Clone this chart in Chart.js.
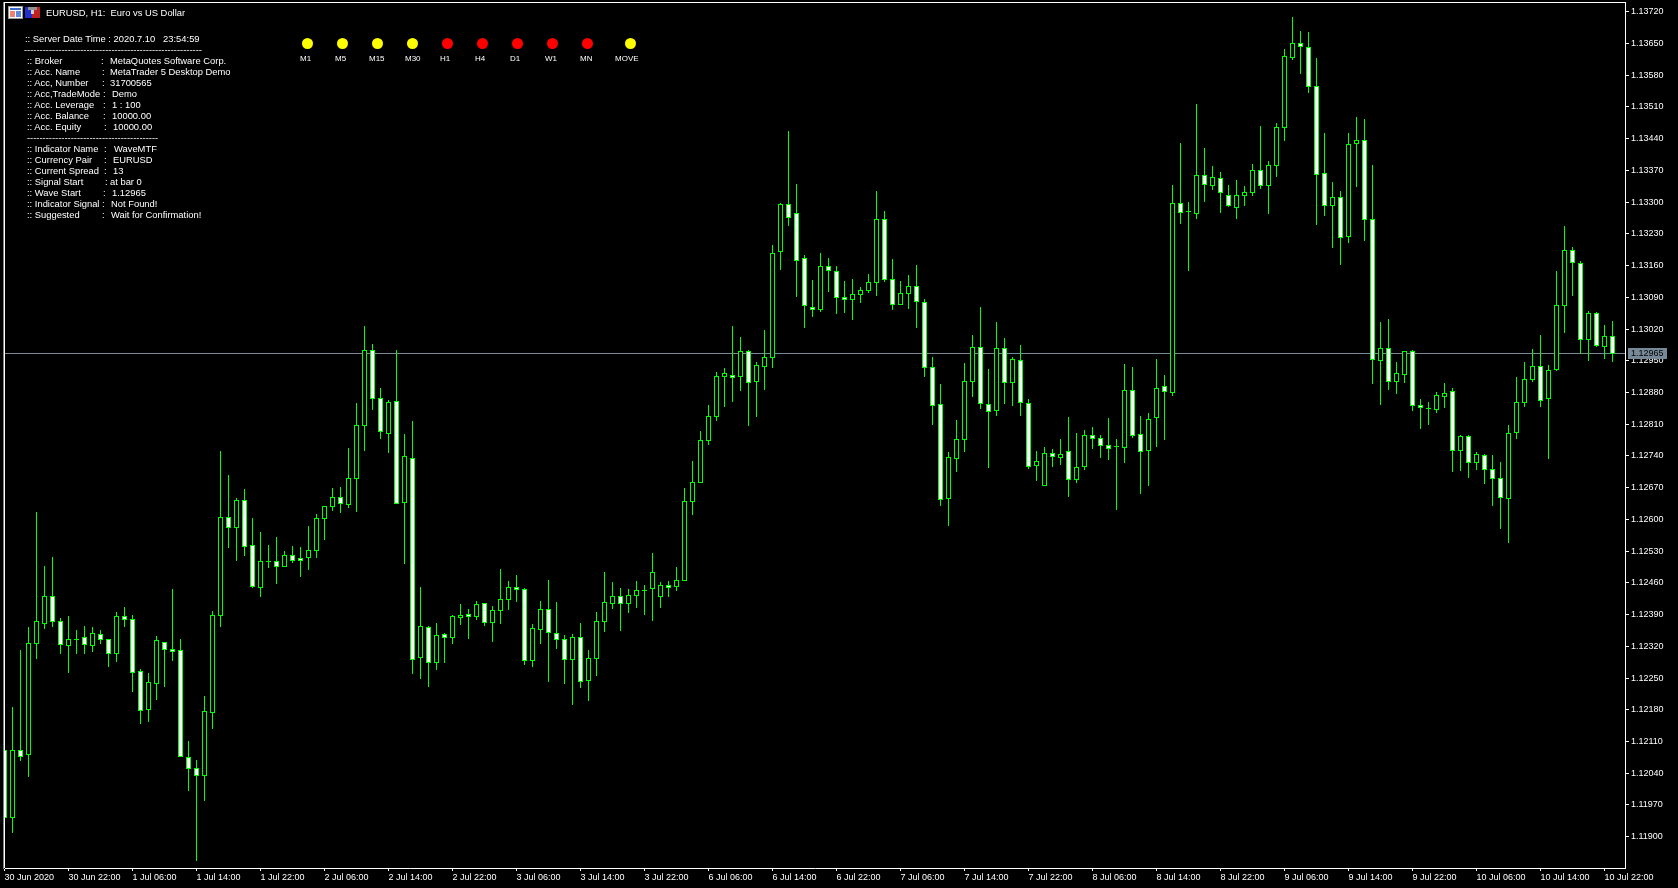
<!DOCTYPE html>
<html>
<head>
<meta charset="utf-8">
<title>EURUSD, H1</title>
<script src="https://cdn.jsdelivr.net/npm/chart.js@4/dist/chart.umd.min.js"></script>
<style>
    html, body { margin: 0; padding: 0; background: #000; overflow: hidden; }
    #wrap { position: relative; width: 1678px; height: 888px; }
    canvas { display: block; }
    .txt { position: absolute; color: #fff; font: 9.4px "Liberation Sans", sans-serif; white-space: pre; line-height: 11px; }
    .dot { position: absolute; width: 11px; height: 11px; border-radius: 50%; }
    svg { position: absolute; }
</style>
</head>
<body>
<div id="wrap"><canvas id="chart" width="1678" height="888"></canvas></div>
<script>
// Prices in 1/100000, one candle per hour
const opens = [
    112090, 111943, 112090, 112082, 112327, 112371, 112430, 112375, 112322, 112335,
    112340, 112322, 112347, 112335, 112305, 112386, 112380, 112265, 112181, 112238,
    112329, 112313, 112311, 112075, 112051, 112035, 112174, 112388, 112605, 112582,
    112642, 112543, 112450, 112508, 112508, 112496, 112521, 112514, 112516, 112532,
    112602, 112629, 112649, 112633, 112691, 112808, 112972, 112867, 112790, 112860,
    112638, 112735, 112296, 112362, 112285, 112347, 112340, 112384, 112391, 112386,
    112415, 112373, 112399, 112424, 112450, 112446, 112289, 112358, 112402, 112349,
    112335, 112291, 112340, 112245, 112294, 112375, 112415, 112430, 112415, 112432,
    112444, 112448, 112430, 112455, 112452, 112466, 112640, 112682, 112774, 112827,
    112916, 112918, 112916, 112971, 112905, 112938, 112958, 113191, 113295, 113275,
    113176, 113068, 113063, 113158, 113147, 113090, 113085, 113096, 113105, 113123,
    113262, 113130, 113074, 113099, 113114, 113079, 112935, 112854, 112646, 112735,
    112777, 112905, 112980, 112854, 112841, 112977, 112902, 112951, 112856, 112719,
    112675, 112746, 112737, 112750, 112688, 112717, 112785, 112779, 112763, 112760,
    112759, 112885, 112788, 112752, 112825, 112894, 112880, 113297, 113280, 113275,
    113359, 113337, 113352, 113315, 113288, 113315, 113322, 113370, 113337, 113381,
    113465, 113619, 113650, 113641, 113555, 113363, 113293, 113311, 113225, 113430,
    113436, 113262, 112951, 112977, 112905, 112920, 112971, 112852, 112845, 112843,
    112872, 112883, 112752, 112783, 112726, 112741, 112710, 112691, 112647, 112792,
    112858, 112909, 112938, 112867, 112931, 113072, 113194, 113165, 112997, 113055,
    112982, 113004
];
const highs = [
    112090, 112185, 112310, 112362, 112616, 112497, 112516, 112382, 112386, 112355,
    112364, 112362, 112355, 112336, 112395, 112406, 112388, 112269, 112260, 112342,
    112329, 112446, 112335, 112110, 112069, 112210, 112397, 112750, 112697, 112646,
    112666, 112602, 112571, 112543, 112560, 112530, 112541, 112538, 112585, 112611,
    112629, 112669, 112671, 112757, 112856, 113026, 112986, 112889, 112863, 112973,
    112788, 112816, 112450, 112364, 112371, 112349, 112388, 112413, 112402, 112419,
    112415, 112408, 112490, 112463, 112477, 112448, 112369, 112419, 112466, 112417,
    112344, 112347, 112371, 112311, 112395, 112483, 112461, 112448, 112446, 112463,
    112455, 112525, 112461, 112463, 112494, 112669, 112728, 112794, 112852, 112924,
    112933, 113026, 113002, 112973, 112947, 113017, 113205, 113297, 113456, 113339,
    113183, 113127, 113187, 113176, 113158, 113125, 113130, 113112, 113141, 113324,
    113280, 113174, 113125, 113138, 113160, 113085, 112958, 112898, 112748, 112819,
    112944, 113006, 113068, 112931, 113035, 112999, 112958, 112984, 112865, 112750,
    112759, 112755, 112777, 112825, 112790, 112796, 112803, 112785, 112823, 112777,
    112942, 112936, 112827, 112834, 112953, 112918, 113337, 113430, 113300, 113516,
    113419, 113379, 113366, 113337, 113348, 113335, 113384, 113467, 113390, 113474,
    113637, 113708, 113677, 113675, 113617, 113452, 113344, 113324, 113452, 113487,
    113483, 113381, 113035, 113041, 112947, 112971, 112972, 112865, 112858, 112880,
    112900, 112889, 112785, 112784, 112748, 112744, 112741, 112726, 112808, 112913,
    112947, 112975, 113006, 112940, 113147, 113247, 113200, 113169, 113059, 113056,
    113028, 113037
];
const lows = [
    111943, 111909, 112068, 112033, 112293, 112359, 112363, 112304, 112262, 112304,
    112304, 112308, 112326, 112275, 112286, 112363, 112220, 112150, 112154, 112202,
    112231, 112288, 112077, 112002, 111847, 111980, 112138, 112363, 112538, 112509,
    112520, 112449, 112430, 112493, 112458, 112496, 112505, 112474, 112489, 112516,
    112555, 112619, 112615, 112627, 112617, 112752, 112843, 112779, 112747, 112636,
    112503, 112260, 112249, 112231, 112269, 112284, 112326, 112368, 112337, 112379,
    112366, 112330, 112370, 112401, 112419, 112280, 112275, 112326, 112242, 112315,
    112238, 112191, 112229, 112200, 112255, 112352, 112403, 112355, 112394, 112405,
    112390, 112377, 112405, 112430, 112443, 112466, 112610, 112682, 112765, 112818,
    112849, 112860, 112884, 112808, 112827, 112887, 112935, 113152, 113248, 113092,
    113024, 113047, 113059, 113103, 113055, 113057, 113041, 113079, 113101, 113094,
    113125, 113063, 113074, 113065, 113024, 112916, 112810, 112631, 112587, 112706,
    112750, 112871, 112845, 112715, 112830, 112856, 112852, 112830, 112713, 112686,
    112675, 112717, 112721, 112651, 112682, 112710, 112757, 112737, 112733, 112622,
    112725, 112780, 112658, 112674, 112761, 112777, 112873, 113252, 113149, 113263,
    113301, 113327, 113277, 113290, 113263, 113292, 113314, 113329, 113275, 113356,
    113436, 113614, 113583, 113541, 113250, 113270, 113200, 113162, 113211, 113334,
    113215, 112899, 112853, 112886, 112877, 112902, 112840, 112800, 112809, 112836,
    112847, 112705, 112708, 112692, 112710, 112679, 112630, 112580, 112549, 112778,
    112849, 112905, 112849, 112734, 112929, 113012, 113094, 112966, 112950, 112981,
    112955, 112948
];
const closes = [
    111943, 112090, 112077, 112327, 112375, 112430, 112375, 112324, 112335, 112335,
    112324, 112349, 112335, 112305, 112386, 112380, 112263, 112179, 112241, 112333,
    112313, 112309, 112077, 112051, 112035, 112177, 112388, 112605, 112582, 112642,
    112541, 112452, 112508, 112508, 112496, 112521, 112510, 112510, 112532, 112602,
    112629, 112649, 112636, 112691, 112808, 112972, 112867, 112794, 112858, 112636,
    112739, 112291, 112364, 112285, 112344, 112340, 112386, 112388, 112386, 112413,
    112373, 112399, 112424, 112450, 112446, 112289, 112360, 112402, 112351, 112335,
    112291, 112340, 112243, 112294, 112375, 112417, 112430, 112415, 112432, 112444,
    112444, 112483, 112455, 112450, 112466, 112640, 112682, 112774, 112827, 112916,
    112922, 112913, 112971, 112902, 112940, 112958, 113187, 113295, 113266, 113171,
    113072, 113063, 113158, 113149, 113090, 113085, 113096, 113105, 113123, 113262,
    113130, 113074, 113099, 113114, 113081, 112935, 112852, 112644, 112737, 112777,
    112905, 112980, 112856, 112838, 112977, 112902, 112953, 112858, 112717, 112728,
    112746, 112739, 112744, 112688, 112715, 112785, 112779, 112763, 112757, 112760,
    112885, 112786, 112750, 112821, 112889, 112883, 113297, 113277, 113280, 113359,
    113339, 113355, 113322, 113293, 113315, 113322, 113370, 113337, 113381, 113465,
    113622, 113650, 113644, 113555, 113361, 113293, 113311, 113222, 113427, 113436,
    113262, 112953, 112977, 112905, 112922, 112971, 112852, 112847, 112845, 112874,
    112878, 112752, 112783, 112726, 112744, 112710, 112691, 112649, 112790, 112858,
    112909, 112938, 112863, 112929, 113072, 113194, 113167, 112997, 113055, 112984,
    113004, 112965
];

const priceTicks = [
    113720, 113650, 113580, 113510, 113440, 113370, 113300, 113230, 113160, 113090,
    113020, 112950, 112880, 112810, 112740, 112670, 112600, 112530, 112460, 112390,
    112320, 112250, 112180, 112110, 112040, 111970, 111900
];
const timeLabels = [
    "30 Jun 2020", "30 Jun 22:00", "1 Jul 06:00", "1 Jul 14:00", "1 Jul 22:00", "2 Jul 06:00",
    "2 Jul 14:00", "2 Jul 22:00", "3 Jul 06:00", "3 Jul 14:00", "3 Jul 22:00", "6 Jul 06:00",
    "6 Jul 14:00", "6 Jul 22:00", "7 Jul 06:00", "7 Jul 14:00", "7 Jul 22:00", "8 Jul 06:00",
    "8 Jul 14:00", "8 Jul 22:00", "9 Jul 06:00", "9 Jul 14:00", "9 Jul 22:00", "10 Jul 06:00",
    "10 Jul 14:00", "10 Jul 22:00"
];
const barsPerLabel = 8;
const currentPrice = 112965;

const timeframes = ["M1", "M5", "M15", "M30", "H1", "H4", "D1", "W1", "MN", "MOVE"];
const timeframeColors = ["#ffff00", "#ffff00", "#ffff00", "#ffff00", "#ff0000", "#ff0000", "#ff0000", "#ff0000", "#ff0000", "#ffff00"];

const GREEN = "#00ff00";
const AXIS_FONT = { family: "Liberation Sans", size: 9 };

function fmtPrice(v) {
    return (v / 100000).toFixed(5);
}

// Snap bars to whole pixel rows, the terminal draws without antialiasing
const snapBars = {
    id: "snapBars",
    afterDatasetsUpdate(chart) {
        chart.getSortedVisibleDatasetMetas().forEach(meta => {
            meta.data.forEach(bar => {
                const top = Math.floor(Math.min(bar.y, bar.base));
                const bottom = Math.floor(Math.max(bar.y, bar.base)) + 1;
                bar.y = top;
                bar.base = bottom;
            });
        });
    }
};

// Bid line goes behind the candles
const bidLine = {
    id: "bidLine",
    beforeDatasetsDraw(chart) {
        const { ctx, chartArea, scales } = chart;
        const y = Math.floor(scales.y.getPixelForValue(currentPrice));
        ctx.save();
        ctx.fillStyle = "#778899";
        ctx.fillRect(chartArea.left, y, chartArea.right - chartArea.left, 1);
        ctx.restore();
    },
    afterDraw(chart) {
        const { ctx, chartArea, scales } = chart;
        const y = Math.floor(scales.y.getPixelForValue(currentPrice));
        ctx.save();
        // frame top and left
        ctx.fillStyle = "#ffffff";
        ctx.fillRect(3, 2, chartArea.right - 2, 1);
        ctx.fillRect(4, 2, 1, chartArea.bottom - 2);
        ctx.fillStyle = "#808080";
        ctx.fillRect(3, 2, 1, chartArea.bottom - 1);
        // price tag
        ctx.fillStyle = "#778899";
        ctx.fillRect(chartArea.right + 3, y - 5, 39, 11);
        ctx.fillStyle = "#000000";
        ctx.font = AXIS_FONT.size + "px " + AXIS_FONT.family;
        ctx.textBaseline = "middle";
        ctx.fillText(fmtPrice(currentPrice), chartArea.right + 6, y + 1);
        ctx.restore();
    }
};

new Chart(document.getElementById("chart"), {
    type: "bar",
    data: {
        datasets: [
            {
                label: "Body",
                order: 1,
                grouped: false,
                data: opens.map((o, i) => ({ x: i, y: [Math.min(o, closes[i]), Math.max(o, closes[i])] })),
                barThickness: 5,
                borderWidth: 1,
                borderSkipped: false,
                inflateAmount: 0,
                borderColor: GREEN,
                backgroundColor: ctx => closes[ctx.dataIndex] < opens[ctx.dataIndex] ? "#ffffff" : "#000000"
            },
            {
                label: "Wick",
                order: 2,
                grouped: false,
                data: opens.map((o, i) => ({ x: i, y: [lows[i], highs[i]] })),
                barThickness: 1,
                borderWidth: 0,
                borderSkipped: false,
                inflateAmount: 0,
                backgroundColor: GREEN
            }
        ]
    },
    plugins: [snapBars, bidLine],
    options: {
        responsive: false,
        animation: false,
        events: [],
        layout: { padding: { left: 5, top: 3, right: 0, bottom: 0 } },
        plugins: {
            legend: { display: false },
            tooltip: { enabled: false }
        },
        scales: {
            x: {
                type: "linear",
                offset: false,
                min: 0.0625,
                max: 202.5625,
                stacked: false,
                grid: { offset: false, drawOnChartArea: false, color: "#ffffff", tickLength: 3 },
                border: { color: "#ffffff" },
                afterBuildTicks: axis => {
                    axis.ticks = timeLabels.map((_, k) => ({ value: k * barsPerLabel }));
                },
                afterFit: axis => {
                    axis.height = 20;
                    axis.paddingLeft = axis.paddingRight = 0;
                },
                ticks: {
                    color: "#ffffff",
                    font: AXIS_FONT,
                    align: "start",
                    autoSkip: false,
                    maxRotation: 0,
                    padding: 1,
                    callback: (value, index) => timeLabels[index]
                }
            },
            y: {
                position: "right",
                min: 111831,
                max: 113739.2,
                grid: { drawOnChartArea: false, color: "#ffffff", tickLength: 4 },
                border: { color: "#ffffff" },
                afterBuildTicks: axis => {
                    axis.ticks = priceTicks.map(v => ({ value: v }));
                },
                afterFit: axis => {
                    axis.width = 53;
                    axis.paddingTop = axis.paddingBottom = 0;
                },
                ticks: {
                    color: "#ffffff",
                    font: AXIS_FONT,
                    padding: 2,
                    autoSkip: false,
                    callback: value => fmtPrice(value)
                }
            }
        }
    }
});

// Text overlay of the indicator, as in the terminal window
const wrap = document.getElementById("wrap");

function addText(text, x, y, size) {
    const el = document.createElement("div");
    el.className = "txt";
    el.textContent = text;
    el.style.left = x + "px";
    el.style.top = y + "px";
    if (size) el.style.fontSize = size + "px";
    wrap.appendChild(el);
}

addText("EURUSD, H1:  Euro vs US Dollar", 46, 7);
addText(":: Server Date Time : 2020.7.10   23:54:59", 25, 33);
addText("---------------------------------------------------------", 24, 44);
addText("------------------------------------------", 27, 132);

// label, value, colon x, value x, row top
const infoRows = [
    [":: Broker", "MetaQuotes Software Corp.", 101, 110, 55],
    [":: Acc. Name", "MetaTrader 5 Desktop Demo", 102, 110, 66],
    [":: Acc, Number", "31700565", 102, 110, 77],
    [":: Acc,TradeMode", "Demo", 103, 112, 88],
    [":: Acc. Leverage", "1 : 100", 103, 112, 99],
    [":: Acc. Balance", "10000.00", 103, 112, 110],
    [":: Acc. Equity", "10000.00", 104, 113, 121],
    [":: Indicator Name", "WaveMTF", 104, 114, 143],
    [":: Currency Pair", "EURUSD", 104, 113, 154],
    [":: Current Spread", "13", 104, 113, 165],
    [":: Signal Start", "at bar 0", 105, 110, 176],
    [":: Wave Start", "1.12965", 103, 112, 187],
    [":: Indicator Signal", "Not Found!", 102, 111, 198],
    [":: Suggested", "Wait for Confirmation!", 102, 111, 209]
];
infoRows.forEach(row => {
    addText(row[0], 27, row[4]);
    addText(":", row[2], row[4]);
    addText(row[1], row[3], row[4]);
});

// Traffic lights per timeframe
const dotLeft = [302, 337, 372, 407, 442, 477, 512, 547, 582, 625];
const labelLeft = [300, 335, 369, 405, 440, 475, 510, 545, 580, 615];
timeframes.forEach((tf, i) => {
    const dot = document.createElement("div");
    dot.className = "dot";
    dot.style.left = dotLeft[i] + "px";
    dot.style.top = "38px";
    dot.style.background = timeframeColors[i];
    wrap.appendChild(dot);
    addText(tf, labelLeft[i], 53, 8);
});

// Window icons next to the title
wrap.insertAdjacentHTML("beforeend", `
<svg style="left:8px;top:6px" width="34" height="13" viewBox="0 0 34 13">
    <rect x="0.5" y="0.5" width="14" height="12" fill="#fff" stroke="#999"/>
    <rect x="2" y="2" width="11" height="2" fill="#3a6bd0"/>
    <rect x="2" y="5" width="5" height="6" fill="#f08070"/>
    <rect x="8" y="5" width="5" height="6" fill="#5a8ae0"/>
    <rect x="17" y="1" width="7" height="11" fill="#2030d0"/>
    <rect x="24" y="1" width="8" height="11" fill="#c02020"/>
    <rect x="20" y="1" width="9" height="3" fill="#909090"/>
    <rect x="23" y="4" width="3" height="4" fill="#d0d0d0"/>
</svg>`);
</script>
</body>
</html>
